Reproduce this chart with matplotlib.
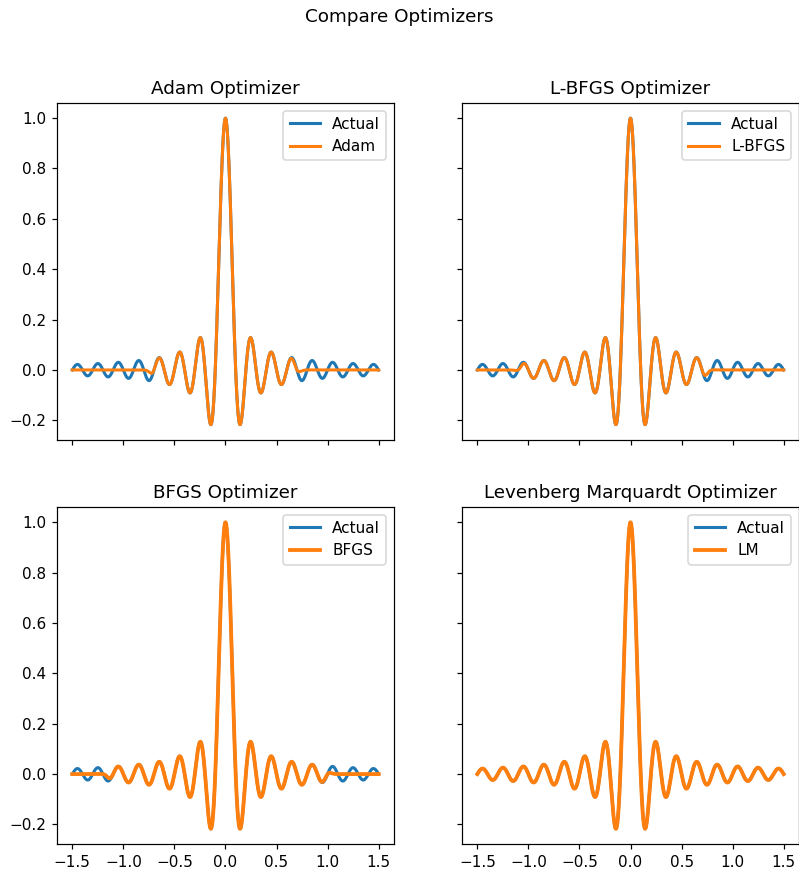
import numpy as np
import matplotlib.pyplot as plt

# target: sin(w x)/(w x) sampled on [-1.5, 1.5]
x_min, x_max, n_pts = -1.5, 1.5, 1000
omega = 10 * np.pi

titles = ["Adam Optimizer", "L-BFGS Optimizer", "BFGS Optimizer", "Levenberg Marquardt Optimizer"]
labels = ["Adam", "L-BFGS", "BFGS", "LM"]
# x range over which each fitted model follows the target
fit_lo = [-0.72, -1.08, -1.15, -1.6]
fit_hi = [0.70, 0.74, 1.00, 1.6]
widths = [2.0, 2.0, 2.5, 2.5]

x = np.linspace(x_min, x_max, n_pts)
actual = np.sinc(omega * x / np.pi)


def model_curve(lo, hi):
    s = 0.04
    w = 0.25 * (1 + np.tanh((x - lo) / s)) * (1 - np.tanh((x - hi) / s))
    return actual * w


dpi = 110
fig, axes = plt.subplots(2, 2, sharex=True, sharey=True, figsize=(799 / dpi, 872 / dpi), dpi=dpi)
fig.subplots_adjust(left=0.0713, right=1.0, top=0.882, bottom=0.032, wspace=0.202, hspace=0.199)
fig.suptitle("Compare Optimizers", y=0.991)

for i, ax in enumerate(axes.flat):
    ax.plot(x, actual, label="Actual", lw=2.0)
    ax.plot(x, model_curve(fit_lo[i], fit_hi[i]), label=labels[i], lw=widths[i])
    ax.set_title(titles[i])
    ax.legend(loc="upper right")

fig.savefig("out.png", dpi=dpi)
